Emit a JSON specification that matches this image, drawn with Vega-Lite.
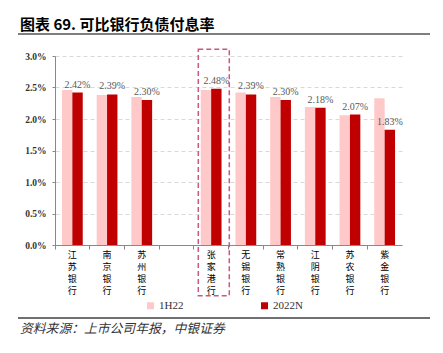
{
  "$schema": "https://vega.github.io/schema/vega-lite/v6.json",
  "width": 347,
  "height": 189,
  "autosize": {"type": "none"},
  "padding": {"left": 55, "top": 56, "right": 41, "bottom": 108},
  "background": "white",
  "title": {
    "text": "图表 69. 可比银行负债付息率",
    "anchor": "start",
    "frame": "group",
    "dx": -35,
    "offset": 0,
    "fontSize": 15,
    "font": "Noto Sans CJK SC",
    "fontWeight": "bold",
    "color": "#000000"
  },
  "config": {
    "view": {"stroke": null},
    "axisY": {
      "title": null,
      "labelFont": "Liberation Serif",
      "labelFontSize": 9.5,
      "labelFontWeight": "bold",
      "labelColor": "#333333",
      "labelPadding": 6,
      "tickSize": 3,
      "tickColor": "#888888",
      "domainColor": "#888888",
      "grid": true,
      "gridColor": "#D9D9D9",
      "gridDash": [4, 3]
    }
  },
  "datasets": {
    "rates": [
      {"bank": "江苏银行", "series": "1H22", "value": 2.46},
      {"bank": "江苏银行", "series": "2022N", "value": 2.42},
      {"bank": "南京银行", "series": "1H22", "value": 2.38},
      {"bank": "南京银行", "series": "2022N", "value": 2.39},
      {"bank": "苏州银行", "series": "1H22", "value": 2.35},
      {"bank": "苏州银行", "series": "2022N", "value": 2.30},
      {"bank": "张家港行", "series": "1H22", "value": 2.46},
      {"bank": "张家港行", "series": "2022N", "value": 2.48},
      {"bank": "无锡银行", "series": "1H22", "value": 2.42},
      {"bank": "无锡银行", "series": "2022N", "value": 2.39},
      {"bank": "常熟银行", "series": "1H22", "value": 2.35},
      {"bank": "常熟银行", "series": "2022N", "value": 2.30},
      {"bank": "江阴银行", "series": "1H22", "value": 2.19},
      {"bank": "江阴银行", "series": "2022N", "value": 2.18},
      {"bank": "苏农银行", "series": "1H22", "value": 2.06},
      {"bank": "苏农银行", "series": "2022N", "value": 2.07},
      {"bank": "紫金银行", "series": "1H22", "value": 2.33},
      {"bank": "紫金银行", "series": "2022N", "value": 1.83}
    ],
    "decor": [{"item": "decor"}]
  },
  "layer": [
    {
      "data": {"name": "rates"},
      "layer": [
        {
          "mark": {"type": "bar"},
          "encoding": {
            "x": {
              "field": "bank",
              "type": "nominal",
              "scale": {
                "domain": ["江苏银行", "南京银行", "苏州银行", " ", "张家港行", "无锡银行", "常熟银行", "江阴银行", "苏农银行", "紫金银行"],
                "paddingInner": 0,
                "paddingOuter": 0
              },
              "axis": {
                "title": null,
                "labelAngle": 0,
                "labelExpr": "split(datum.label, '')",
                "labelFont": "Noto Sans CJK SC",
                "labelFontSize": 9,
                "labelLineHeight": 12,
                "labelColor": "#000000",
                "labelPadding": 1,
                "labelBaseline": "top",
                "bandPosition": 0,
                "tickSize": 4,
                "tickColor": "#888888",
                "domainColor": "#888888",
                "grid": false
              }
            },
            "xOffset": {
              "field": "series",
              "type": "nominal",
              "sort": ["1H22", "2022N"],
              "scale": {"paddingInner": 0, "paddingOuter": 0.67}
            },
            "y": {
              "field": "value",
              "type": "quantitative",
              "scale": {"domain": [0, 3], "nice": false},
              "axis": {"values": [0, 0.5, 1, 1.5, 2, 2.5, 3], "labelExpr": "format(datum.value, '.1f') + '%'"}
            },
            "color": {
              "field": "series",
              "type": "nominal",
              "scale": {"domain": ["1H22", "2022N"], "range": ["#FFC9C9", "#C00000"]},
              "legend": {
                "title": null,
                "orient": "none",
                "legendX": 90,
                "legendY": 244,
                "direction": "horizontal",
                "symbolType": "square",
                "symbolSize": 49,
                "symbolStrokeWidth": 0,
                "labelFont": "Liberation Serif",
                "labelFontSize": 11,
                "labelColor": "#333333",
                "labelOffset": 3,
                "columnPadding": 75
              }
            }
          }
        },
        {
          "transform": [{"filter": "datum.series == '2022N'"}],
          "mark": {
            "type": "text",
            "font": "Liberation Serif",
            "fontSize": 10,
            "color": "#595959",
            "baseline": "alphabetic",
            "dy": -5,
            "text": {"expr": "format(datum.value, '.2f') + '%'"}
          },
          "encoding": {
            "x": {
              "field": "bank",
              "type": "nominal",
              "scale": {
                "domain": ["江苏银行", "南京银行", "苏州银行", " ", "张家港行", "无锡银行", "常熟银行", "江阴银行", "苏农银行", "紫金银行"],
                "paddingInner": 0,
                "paddingOuter": 0
              }
            },
            "xOffset": {"field": "series", "type": "nominal", "sort": ["1H22", "2022N"]},
            "y": {
              "field": "value",
              "type": "quantitative",
              "scale": {"domain": [0, 3], "nice": false},
              "axis": {"values": [0, 0.5, 1, 1.5, 2, 2.5, 3], "labelExpr": "format(datum.value, '.1f') + '%'"}
            }
          }
        }
      ]
    },
    {
      "data": {"name": "decor"},
      "mark": {"type": "rule", "color": "#7F7F7F", "strokeWidth": 2},
      "encoding": {
        "x": {"datum": -0.1066, "type": "quantitative", "scale": {"domain": [0, 1], "nice": false, "zero": false}, "axis": null},
        "x2": {"datum": 1.0807},
        "y": {"datum": 3.349, "type": "quantitative", "scale": {"domain": [0, 3], "nice": false}, "axis": {"values": [0, 0.5, 1, 1.5, 2, 2.5, 3], "labelExpr": "format(datum.value, '.1f') + '%'"}}
      }
    },
    {
      "data": {"name": "decor"},
      "mark": {"type": "rule", "color": "#404040", "strokeWidth": 1.5},
      "encoding": {
        "x": {"datum": -0.1066, "type": "quantitative", "scale": {"domain": [0, 1], "nice": false, "zero": false}, "axis": null},
        "x2": {"datum": 1.0807},
        "y": {"datum": -1.159, "type": "quantitative", "scale": {"domain": [0, 3], "nice": false}, "axis": {"values": [0, 0.5, 1, 1.5, 2, 2.5, 3], "labelExpr": "format(datum.value, '.1f') + '%'"}}
      }
    },
    {
      "data": {"name": "decor"},
      "mark": {"type": "rect", "fill": null, "stroke": "#C9577F", "strokeWidth": 1.5, "strokeDash": [5, 3]},
      "encoding": {
        "x": {"datum": 0.413, "type": "quantitative", "scale": {"domain": [0, 1], "nice": false, "zero": false}, "axis": null},
        "x2": {"datum": 0.5023},
        "y": {"datum": 3.106, "type": "quantitative", "scale": {"domain": [0, 3], "nice": false}, "axis": {"values": [0, 0.5, 1, 1.5, 2, 2.5, 3], "labelExpr": "format(datum.value, '.1f') + '%'"}},
        "y2": {"datum": -0.805}
      }
    },
    {
      "data": {"name": "decor"},
      "mark": {"type": "text", "text": "资料来源：上市公司年报，中银证券", "font": "Noto Sans CJK SC", "fontSize": 12.8, "fontStyle": "italic", "color": "#333333", "align": "left", "baseline": "middle"},
      "encoding": {
        "x": {"datum": -0.1009, "type": "quantitative", "scale": {"domain": [0, 1], "nice": false, "zero": false}, "axis": null},
        "y": {"datum": -1.333, "type": "quantitative", "scale": {"domain": [0, 3], "nice": false}, "axis": {"values": [0, 0.5, 1, 1.5, 2, 2.5, 3], "labelExpr": "format(datum.value, '.1f') + '%'"}}
      }
    }
  ],
  "resolve": {"scale": {"x": "independent"}}
}
